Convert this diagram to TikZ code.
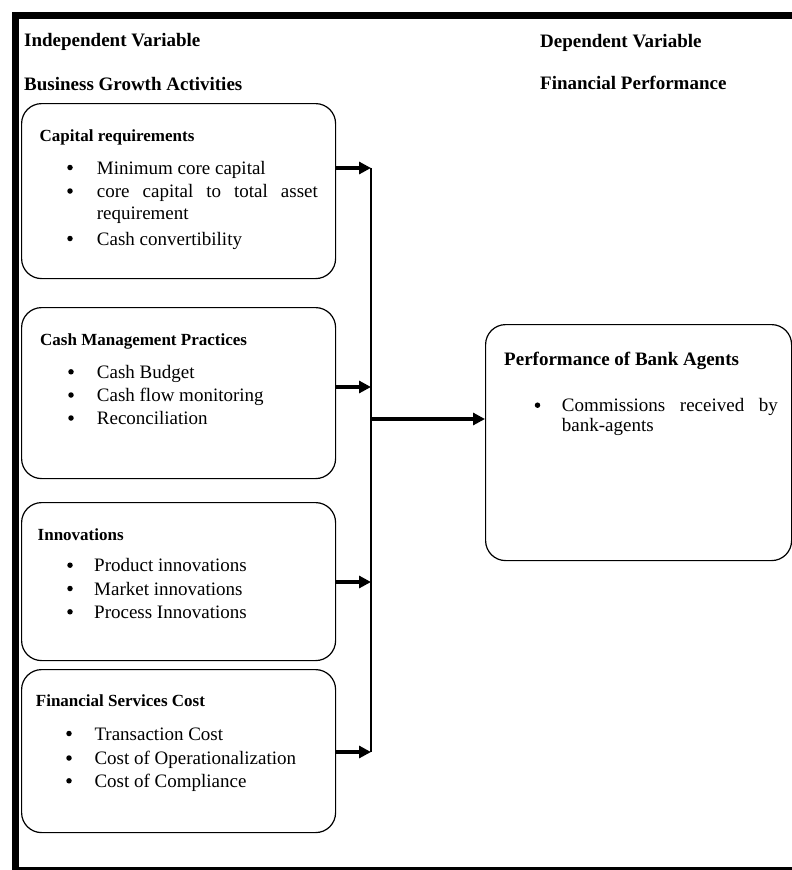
\documentclass[tikz,border=0pt]{standalone}
\usepackage{fontspec}
\setmainfont{Liberation Serif}
\usetikzlibrary{arrows.meta}
\begin{document}
\begin{tikzpicture}[x=1pt,y=-1pt,
  box/.style={draw, line width=1.2pt, rounded corners=20pt, anchor=north west, inner sep=0pt},
  hdr/.style={anchor=base west, inner sep=0pt, font=\fontsize{19}{23}\selectfont\bfseries},
  ttl/.style={anchor=base west, inner sep=0pt, font=\fontsize{17}{20}\selectfont\bfseries},
  itm/.style={anchor=base west, inner sep=0pt, font=\fontsize{19}{23}\selectfont},
  bul/.style={circle, fill, inner sep=0pt, minimum size=5.5pt, yshift=6.5pt},
  arr/.style={line width=3.2pt, -{Triangle[length=12pt,width=12pt]}},
  link/.style={line width=1.4pt}
]
\useasboundingbox (0,0) rectangle (792,870);
% frame
\draw[line width=7pt] (15.5,870) -- (15.5,15.5) -- (792,15.5);
\draw[line width=2.5pt] (12,868.5) -- (792,868.5);

% headers
\node[hdr] (h1) at (24,46.5) {Independent Variable};
\node[hdr] (h2) at (24,90.5) {Business Growth Activities};
\node[hdr] (h3) at (540,47) {Dependent Variable};
\node[hdr] (h4) at (540,89) {Financial Performance};

% boxes
\node[box, minimum width=314pt, minimum height=175pt] (b1) at (21,103) {};
\node[box, minimum width=314pt, minimum height=171pt] (b2) at (21,307) {};
\node[box, minimum width=314pt, minimum height=158pt] (b3) at (21,502) {};
\node[box, minimum width=314pt, minimum height=163pt] (b4) at (21,669) {};
\node[box, minimum width=306pt, minimum height=236pt] (rb) at (485,324) {};

% box 1
\node[ttl] (t1) at (39.5,141.5) {Capital requirements};
\node[bul] (d11) at (70,174) {};
\node[itm] (i11) at (96.7,174) {Minimum core capital};
\node[bul] (d12) at (70,197.5) {};
\node[itm] (i12) at (96.7,197.5) {\makebox[221pt][s]{core capital to total asset}};
\node[itm] (i12b) at (96.7,219.5) {requirement};
\node[bul] (d13) at (70,245) {};
\node[itm] (i13) at (96.7,245) {Cash convertibility};

% box 2
\node[ttl] (t2) at (40,345) {Cash Management Practices};
\node[bul] (d21) at (71,378.3) {};
\node[itm] (i21) at (96.7,378.3) {Cash Budget};
\node[bul] (d22) at (71,401.5) {};
\node[itm] (i22) at (96.7,401.5) {Cash flow monitoring};
\node[bul] (d23) at (71,424.5) {};
\node[itm] (i23) at (96.7,424.5) {Reconciliation};

% box 3
\node[ttl] (t3) at (37.5,540) {Innovations};
\node[bul] (d31) at (70,571.7) {};
\node[itm] (i31) at (94,571.7) {Product innovations};
\node[bul] (d32) at (70,595) {};
\node[itm] (i32) at (94,595) {Market innovations};
\node[bul] (d33) at (70,618.3) {};
\node[itm] (i33) at (94,618.3) {Process Innovations};

% box 4
\node[ttl] (t4) at (35.7,706.7) {Financial Services Cost};
\node[bul] (d41) at (69,740) {};
\node[itm] (i41) at (94.3,740) {Transaction Cost};
\node[bul] (d42) at (69,764.5) {};
\node[itm] (i42) at (94.3,764.5) {Cost of Operationalization};
\node[bul] (d43) at (69,787.3) {};
\node[itm] (i43) at (94.3,787.3) {Cost of Compliance};

% right box
\node[hdr] (tr) at (504,365) {Performance of Bank Agents};
\node[bul] (dr) at (537.5,411.7) {};
\node[itm] (ir1) at (561.7,411.7) {\makebox[216pt][s]{Commissions received by}};
\node[itm] (ir2) at (561.7,431.7) {bank-agents};

% connectors
\coordinate (j1) at (371,168);
\coordinate (j2) at (371,387);
\coordinate (j3) at (371,582);
\coordinate (j4) at (371,752);
\coordinate (jm) at (371,419);
\draw[link] (j1) -- (j4);
\draw[arr] (b1.east |- j1) -- (j1);
\draw[arr] (b2.east |- j2) -- (j2);
\draw[arr] (b3.east |- j3) -- (j3);
\draw[arr] (b4.east |- j4) -- (j4);
\draw[arr] (jm) -- (rb.west |- jm);
\end{tikzpicture}
\end{document}
